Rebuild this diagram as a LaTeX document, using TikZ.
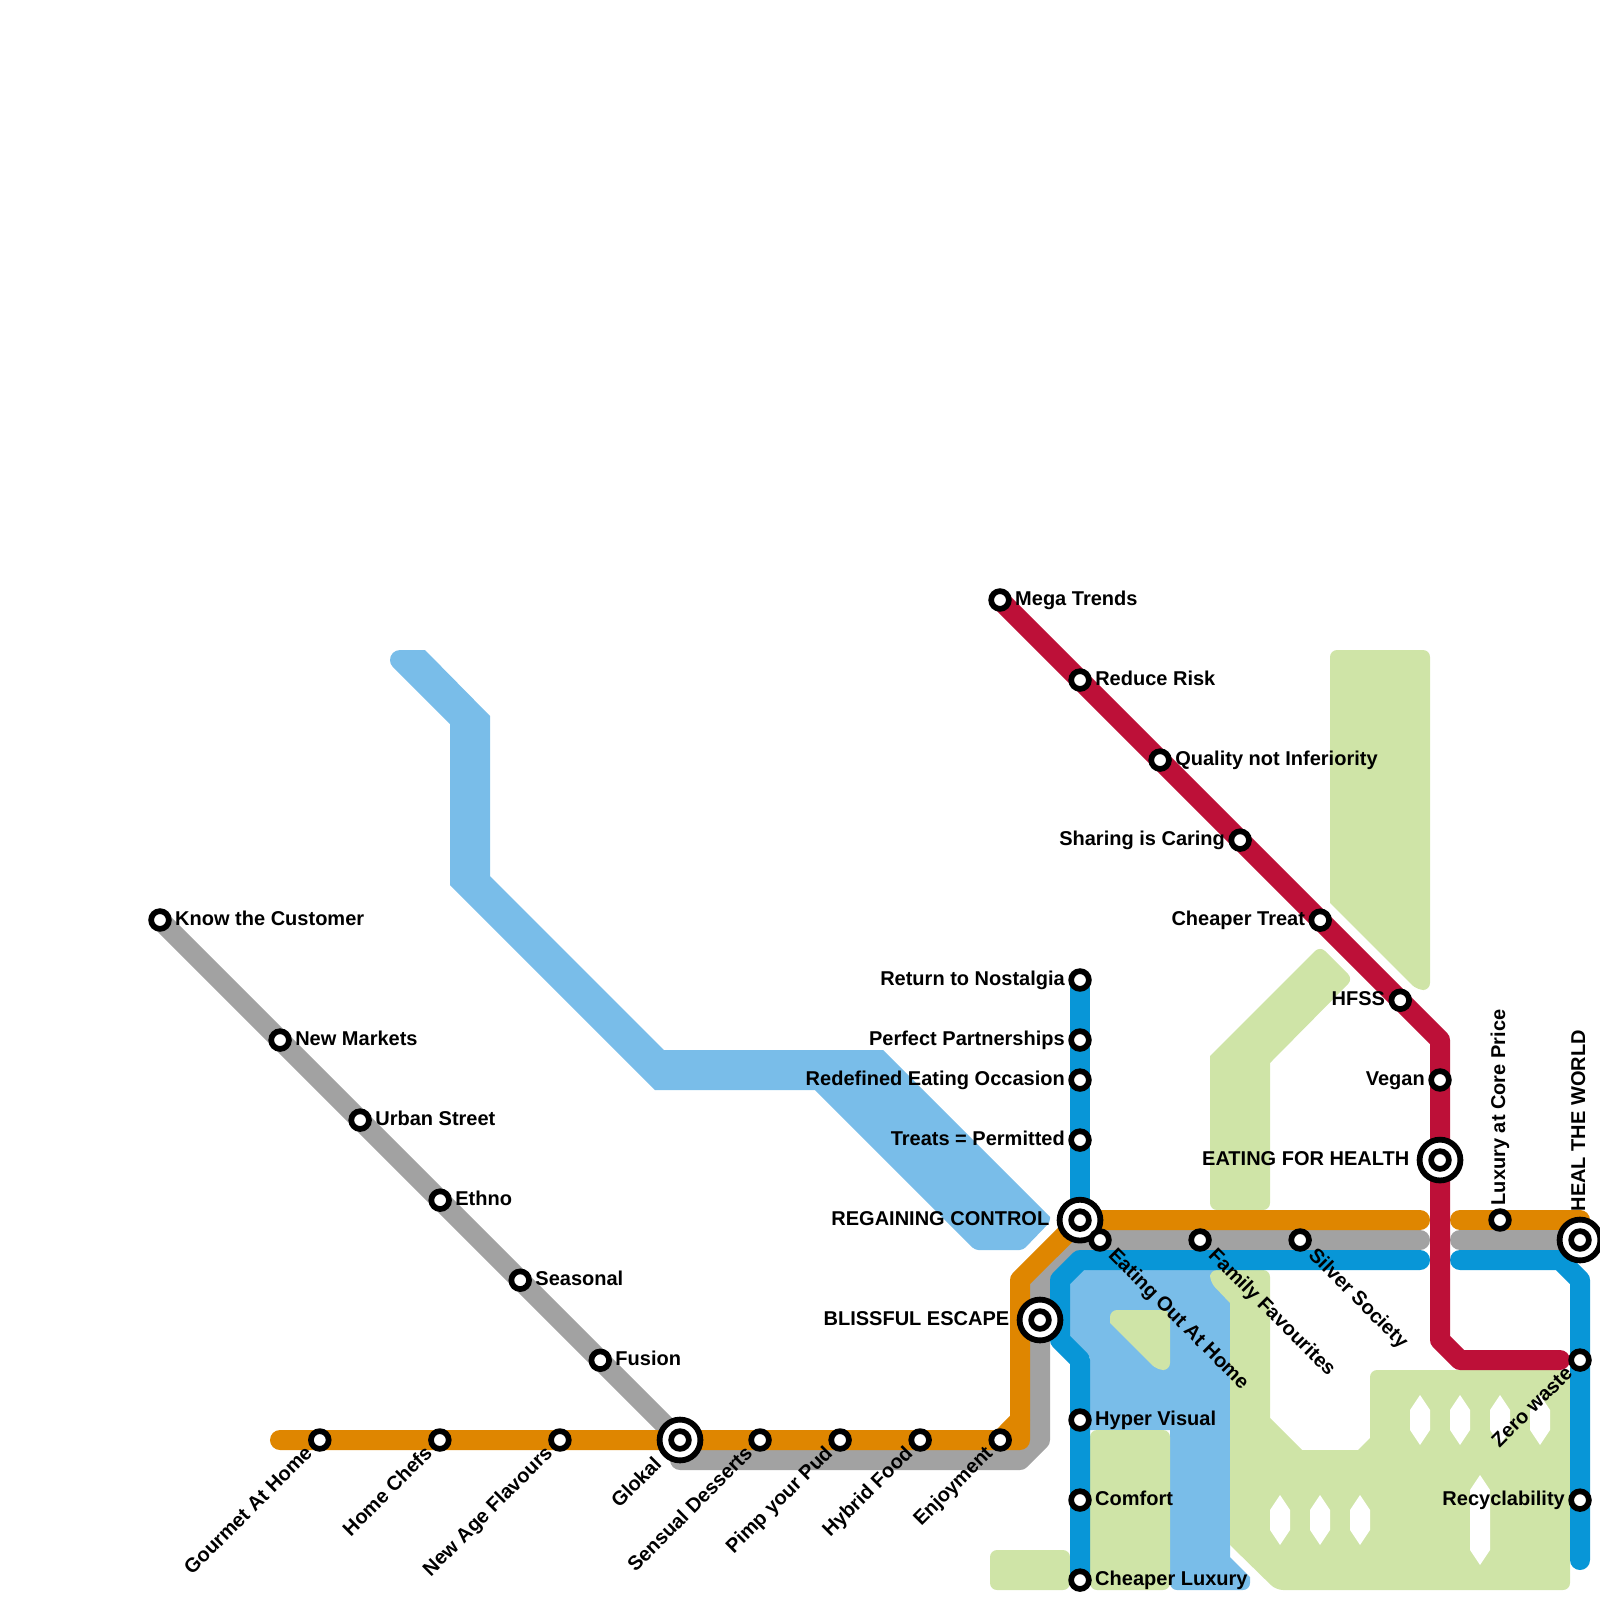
\documentclass[tikz,border=0pt]{standalone}
\usepackage{fontspec}
\setmainfont{Liberation Sans}
\usetikzlibrary{positioning, backgrounds}
\definecolor{linegold}{HTML}{DF8600}
\definecolor{linesilver}{HTML}{A2A2A2}
\definecolor{linebondi}{HTML}{0896D7}
\definecolor{lineruby}{HTML}{BD1038}
\definecolor{areasky}{HTML}{79BDE9}
\definecolor{areamint}{HTML}{CFE4A7}
\tikzset{
    metromap/.style={x=0.01cm, y=-0.01cm, on grid, font=\fontsize{5.69}{7}\selectfont\bfseries},
    stn/.style={circle, draw=black, fill=white, line width=0.57mm, minimum size=1.77mm, inner sep=0pt},
    hub/.style={circle, draw=black, fill=white, line width=0.58mm, minimum size=4.08mm, inner sep=0pt},
    route/.style={line width=2mm, line cap=round, line join=round},
    rnd/.style={rounded corners=0.7mm},
    rndsmall/.style={rounded corners=0.35mm},
    shp/.style={sharp corners},
    hole/.style={fill=white},
    % station texts: put at the station, then pushed off it
    lblright/.style={anchor=base west, inner sep=0pt, xshift=1.45mm, yshift=-0.5mm},
    lblleft/.style={anchor=base east, inner sep=0pt, xshift=-1.45mm, yshift=-0.5mm},
    lblhub/.style={anchor=base east, inner sep=0pt, xshift=-3mm, yshift=-0.5mm},
    lbldown/.style={anchor=base west, inner sep=0pt, xshift=0.7mm, yshift=-1.6mm, rotate=-45},
    lblup/.style={anchor=base east, inner sep=0pt, xshift=-0.6mm, yshift=-1.4mm, rotate=45},
    lblvert/.style={anchor=base west, inner sep=0pt, xshift=0.5mm, yshift=1.4mm, rotate=90},
}
\begin{document}
\begin{tikzpicture}[metromap]
    \useasboundingbox (0,0) rectangle (1600,1600);

    % ruby line
    \node[stn]                                        (mega)    at (1000,600) {};
    \node[stn, below right=0.8cm and 0.8cm of mega]   (reduce)  {};
    \node[stn, below right=0.8cm and 0.8cm of reduce] (quality) {};
    \node[stn, below right=0.8cm and 0.8cm of quality] (sharing) {};
    \node[stn, below right=0.8cm and 0.8cm of sharing] (treat)  {};
    \node[stn, below right=0.8cm and 0.8cm of treat]  (hfss)    {};
    \node[stn]                                        (vegan)   at (1440,1080) {};
    \node[hub, below=0.8cm of vegan]                  (health)  {};
    \node[stn]                                        (healthc) at (health) {};
    \node[lblright] (megatxt)    at (mega)    {Mega Trends};
    \node[lblright] (reducetxt)  at (reduce)  {Reduce Risk};
    \node[lblright] (qualitytxt) at (quality) {Quality not Inferiority};
    \node[lblleft]  (sharingtxt) at (sharing) {Sharing is Caring};
    \node[lblleft]  (treattxt)   at (treat)   {Cheaper Treat};
    \node[lblleft]  (hfsstxt)    at (hfss)    {HFSS};
    \node[lblleft]  (vegantxt)   at (vegan)   {Vegan};
    \node[lblhub]   (healthtxt)  at (health)  {EATING FOR HEALTH};

    % silver line
    \node[stn]                                         (know)     at (160,920) {};
    \node[stn, below right=1.2cm and 1.2cm of know]    (markets)  {};
    \node[stn, below right=0.8cm and 0.8cm of markets] (urban)    {};
    \node[stn, below right=0.8cm and 0.8cm of urban]   (ethno)    {};
    \node[stn, below right=0.8cm and 0.8cm of ethno]   (seasonal) {};
    \node[stn, below right=0.8cm and 0.8cm of seasonal] (fusion)  {};
    \node[lblright] (knowtxt)     at (know)     {Know the Customer};
    \node[lblright] (marketstxt)  at (markets)  {New Markets};
    \node[lblright] (urbantxt)    at (urban)    {Urban Street};
    \node[lblright] (ethnotxt)    at (ethno)    {Ethno};
    \node[lblright] (seasonaltxt) at (seasonal) {Seasonal};
    \node[lblright] (fusiontxt)   at (fusion)   {Fusion};

    % gold line, along the bottom
    \node[hub]                         (glokal)    at (680,1440) {};
    \node[stn]                         (glokalc)   at (glokal) {};
    \node[stn, left=1.2cm of glokal]   (newage)    {};
    \node[stn, left=1.2cm of newage]   (chefs)     {};
    \node[stn, left=1.2cm of chefs]    (gourmet)   {};
    \node[stn, right=0.8cm of glokal]  (desserts)  {};
    \node[stn, right=0.8cm of desserts] (pud)      {};
    \node[stn, right=0.8cm of pud]     (hybrid)    {};
    \node[stn, right=0.8cm of hybrid]  (enjoy)     {};
    \node[hub]                         (blissful)  at (1040,1320) {};
    \node[stn]                         (blissfulc) at (blissful) {};
    \node[lblup] (gourmettxt)  at (gourmet)  {Gourmet At Home};
    \node[lblup] (chefstxt)    at (chefs)    {Home Chefs};
    \node[lblup] (newagetxt)   at (newage)   {New Age Flavours};
    \node[lblup, xshift=-1.55mm] (glokaltxt) at (glokal) {Glokal};
    \node[lblup] (dessertstxt) at (desserts) {Sensual Desserts};
    \node[lblup] (pudtxt)      at (pud)      {Pimp your Pud};
    \node[lblup] (hybridtxt)   at (hybrid)   {Hybrid Food};
    \node[lblup] (enjoytxt)    at (enjoy)    {Enjoyment};
    \node[lblhub] (blissfultxt) at (blissful) {BLISSFUL ESCAPE};

    % bondi line, centre column
    \node[stn]                          (nostalgia) at (1080,980) {};
    \node[stn, below=0.6cm of nostalgia] (perfect)  {};
    \node[stn, below=0.4cm of perfect]  (occasion)  {};
    \node[stn, below=0.6cm of occasion] (permitted) {};
    \node[hub, below=0.8cm of permitted] (regain)   {};
    \node[stn]                          (regainc)   at (regain) {};
    \node[stn]                          (hyper)     at (1080,1420) {};
    \node[stn, below=0.8cm of hyper]    (comfort)   {};
    \node[stn, below=0.8cm of comfort]  (luxury)    {};
    \node[lblleft]  (nostalgiatxt) at (nostalgia) {Return to Nostalgia};
    \node[lblleft]  (perfecttxt)   at (perfect)   {Perfect Partnerships};
    \node[lblleft]  (occasiontxt)  at (occasion)  {Redefined Eating Occasion};
    \node[lblleft]  (permittedtxt) at (permitted) {Treats = Permitted};
    \node[lblhub]   (regaintxt)    at (regain)    {REGAINING CONTROL};
    \node[lblright] (hypertxt)     at (hyper)     {Hyper Visual};
    \node[lblright] (comforttxt)   at (comfort)   {Comfort};
    \node[lblright] (luxurytxt)    at (luxury)    {Cheaper Luxury};

    % stops running right from the junction
    \node[stn]                        (eatout)    at (1100,1240) {};
    \node[stn, right=1cm of eatout]   (family)    {};
    \node[stn, right=1cm of family]   (silver)    {};
    \node[stn]                        (coreprice) at (1500,1220) {};
    \node[hub]                        (heal)      at (1580,1240) {};
    \node[stn]                        (healc)     at (heal) {};
    \node[stn, below=1.2cm of heal]   (zero)      {};
    \node[stn, below=1.4cm of zero]   (recycle)   {};
    \node[lbldown] (eatouttxt)  at (eatout)  {Eating Out At Home};
    \node[lbldown] (familytxt)  at (family)  {Family Favourites};
    \node[lbldown] (silvertxt)  at (silver)  {Silver Society};
    \node[lblvert] (pricetxt)   at (coreprice) {Luxury at Core Price};
    \node[lblvert, xshift=1.4mm] (healtxt) at (heal) {HEAL THE WORLD};
    \node[lblup]   (zerotxt)    at (zero)    {Zero waste};
    \node[lblleft] (recycletxt) at (recycle) {Recyclability};

    % bends and free ends
    \coordinate (rubybend) at (1440,1040);
    \coordinate (rubylow)  at (1440,1340);
    \coordinate (rubyfoot) at (1460,1360);
    \coordinate (rubyend)  at (1560,1360);
    \coordinate (goldstart) at (280,1440);
    \coordinate (goldturn) at (1020,1440);
    \coordinate (goldrise) at (1020,1420);
    \coordinate (goldup)   at (1020,1280);
    \coordinate (goldend)  at (1420,1220);
    \coordinate (goldback) at (1460,1220);
    \coordinate (goldtip)  at (1580,1220);
    \coordinate (silverdrop) at (680,1460);
    \coordinate (silverturn) at (1020,1460);
    \coordinate (silverrise) at (1040,1440);
    \coordinate (silverup) at (1040,1280);
    \coordinate (silvertop) at (1080,1240);
    \coordinate (silverend) at (1420,1240);
    \coordinate (silverback) at (1460,1240);
    \coordinate (bondiend) at (1420,1260);
    \coordinate (bonditop) at (1080,1260);
    \coordinate (bondiup)  at (1060,1280);
    \coordinate (bondilow) at (1060,1340);
    \coordinate (bondifoot) at (1080,1360);
    \coordinate (bondiback) at (1460,1260);
    \coordinate (bondicorner) at (1560,1260);
    \coordinate (bondidown) at (1580,1280);
    \coordinate (bondistop) at (1580,1560);

    \begin{scope}[on background layer]
        % pale areas
        \fill[areasky] (450,724) -- (392.93,667.07) arc[start angle=135, end angle=270, radius=10] -- (425,650) -- (490,716) -- (490,876) -- (664,1050) -- (883,1050) -- (1050,1217) [rndsmall] -- (1050,1222) -- (1023,1250) -- (975,1250) [shp] -- (815,1090) -- (655,1090) -- (450,885) -- cycle;
        \fill[areasky] (1064,1290) -- (1086,1266) -- (1215,1266) -- (1230,1300) -- (1230,1557) -- (1250,1577) [rnd] -- (1250,1590) -- (1170,1590) [shp] -- (1170,1430) -- (1090,1430) -- (1090,1357) -- (1064,1331) -- cycle;
        \fill[areamint] (1330,903) [rnd] -- (1330,650) -- (1430,650) -- (1430,990) -- (1417,990) [shp] -- cycle;
        \fill[areamint] (1210,1056) [rnd] -- (1320,946) -- (1353,979) [shp] -- (1270,1063) [rnd] -- (1270,1210) -- (1210,1210) [shp] -- cycle;
        \fill[areamint] (1110,1323) [rnd] -- (1110,1310) -- (1170,1310) -- (1170,1370) -- (1157,1370) [shp] -- cycle;
        \fill[areamint, rnd] (990,1550) rectangle (1070,1590);
        \fill[areamint, rnd] (1090,1430) rectangle (1170,1590);
        \fill[areamint] (1230,1303) [rnd] -- (1210,1282) -- (1210,1270) -- (1270,1270) [shp] -- (1270,1418) -- (1302,1450) -- (1358,1450) -- (1370,1438) [rnd] -- (1370,1370) -- (1570,1370) -- (1570,1590) -- (1276,1590) [shp] -- (1230,1545) -- cycle;

        % cut-outs in the big area
        \fill[hole] (1410,1410) -- (1420,1395) -- (1430,1410) -- (1430,1430) -- (1420,1445) -- (1410,1430) -- cycle;
        \fill[hole] (1450,1410) -- (1460,1395) -- (1470,1410) -- (1470,1430) -- (1460,1445) -- (1450,1430) -- cycle;
        \fill[hole] (1490,1410) -- (1500,1395) -- (1510,1410) -- (1510,1430) -- (1500,1445) -- (1490,1430) -- cycle;
        \fill[hole] (1530,1410) -- (1540,1395) -- (1550,1410) -- (1550,1430) -- (1540,1445) -- (1530,1430) -- cycle;
        \fill[hole] (1270,1510) -- (1280,1495) -- (1290,1510) -- (1290,1530) -- (1280,1545) -- (1270,1530) -- cycle;
        \fill[hole] (1310,1510) -- (1320,1495) -- (1330,1510) -- (1330,1530) -- (1320,1545) -- (1310,1530) -- cycle;
        \fill[hole] (1350,1510) -- (1360,1495) -- (1370,1510) -- (1370,1530) -- (1360,1545) -- (1350,1530) -- cycle;
        \fill[hole] (1470,1490) -- (1480,1475) -- (1490,1490) -- (1490,1550) -- (1480,1565) -- (1470,1550) -- cycle;

        % lines
        \draw[route, linesilver] (know.center) -- (markets.center) -- (urban.center) -- (ethno.center) -- (seasonal.center) -- (fusion.center) -- (glokal.center) -- (silverdrop) -- (silverturn) -- (silverrise) -- (blissful.center) -- (silverup) -- (silvertop) -- (eatout.center) -- (family.center) -- (silver.center) -- (silverend);
        \draw[route, linesilver] (silverback) -- (heal.center);
        \draw[route, linegold] (goldstart) -- (gourmet.center) -- (chefs.center) -- (newage.center) -- (glokal.center) -- (desserts.center) -- (pud.center) -- (hybrid.center) -- (enjoy.center) -- (goldturn) -- (goldup) -- (regain.center) -- (goldend);
        \draw[route, linegold] (enjoy.center) -- (goldrise);
        \draw[route, linegold] (goldback) -- (coreprice.center) -- (goldtip);
        \draw[route, linebondi] (nostalgia.center) -- (perfect.center) -- (occasion.center) -- (permitted.center) -- (regain.center);
        \draw[route, linebondi] (bondiend) -- (bonditop) -- (bondiup) -- (bondilow) -- (bondifoot) -- (hyper.center) -- (comfort.center) -- (luxury.center);
        \draw[route, linebondi] (bondiback) -- (bondicorner) -- (bondidown) -- (zero.center) -- (recycle.center) -- (bondistop);
        \draw[route, lineruby] (mega.center) -- (reduce.center) -- (quality.center) -- (sharing.center) -- (treat.center) -- (hfss.center) -- (rubybend) -- (vegan.center) -- (health.center) -- (rubylow) -- (rubyfoot) -- (rubyend);
    \end{scope}
\end{tikzpicture}
\end{document}
